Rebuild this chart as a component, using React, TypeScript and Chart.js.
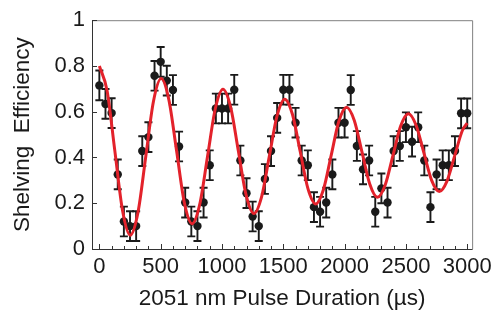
import { useEffect, useRef } from "react";
import { Chart, registerables } from "chart.js";

Chart.register(...registerables);

// Measured data: pulse duration (µs) and shelving efficiency
const durations = [
  0, 50, 100, 150, 200, 250, 300, 350, 400, 450, 500, 550, 600, 650, 700, 750,
  800, 850, 900, 950, 1000, 1050, 1100, 1150, 1200, 1250, 1300, 1350, 1400,
  1450, 1500, 1550, 1600, 1650, 1700, 1750, 1800, 1850, 1900, 1950, 2000, 2050,
  2100, 2150, 2200, 2250, 2300, 2350, 2400, 2450, 2500, 2550, 2600, 2650, 2700,
  2750, 2800, 2850, 2900, 2950, 3000,
];
const efficiency = [
  0.715, 0.634, 0.594, 0.326, 0.12, 0.1, 0.1, 0.428, 0.489, 0.757, 0.818, 0.736,
  0.695, 0.448, 0.203, 0.12, 0.1, 0.203, 0.366, 0.614, 0.614, 0.614, 0.696,
  0.387, 0.244, 0.142, 0.1, 0.306, 0.428, 0.573, 0.696, 0.696, 0.552, 0.387,
  0.366, 0.183, 0.163, 0.203, 0.326, 0.552, 0.552, 0.695, 0.45, 0.348, 0.387,
  0.163, 0.265, 0.203, 0.428, 0.45, 0.532, 0.469, 0.532, 0.387, 0.183, 0.326,
  0.366, 0.366, 0.428, 0.593, 0.593,
];
const errorHalfWidth = 0.065;

// Fit curve
const fitDurations = [
  0, 63, 126, 189, 252, 315, 378, 441, 504, 567, 630, 693, 756, 819, 882, 945,
  1008, 1071, 1134, 1197, 1260, 1323, 1386, 1449, 1512, 1575, 1638, 1701, 1764,
  1827, 1890, 1953, 2016, 2079, 2142, 2205, 2268, 2331, 2394, 2457, 2520, 2583,
  2646, 2709, 2772, 2835, 2898, 2961, 3000,
];
const fitEfficiency = [
  0.8, 0.692, 0.43, 0.168, 0.06, 0.16, 0.402, 0.645, 0.745, 0.652, 0.428, 0.203,
  0.11, 0.196, 0.404, 0.612, 0.698, 0.619, 0.427, 0.235, 0.155, 0.228, 0.405,
  0.582, 0.655, 0.588, 0.426, 0.264, 0.197, 0.259, 0.408, 0.558, 0.62, 0.562,
  0.423, 0.284, 0.226, 0.28, 0.408, 0.537, 0.591, 0.541, 0.421, 0.301, 0.251,
  0.297, 0.408, 0.519, 0.55,
];

const xTickLabels = [0, 500, 1000, 1500, 2000, 2500, 3000];
const yTickLabels = [0, 0.2, 0.4, 0.6, 0.8, 1];

const FONT = "'Liberation Sans', Arial, Helvetica, sans-serif";
const INK = "#1a1a1a";

export default function App() {
  const ref = useRef<HTMLCanvasElement>(null);

  useEffect(() => {
    document.body.style.margin = "0";
    const canvas = ref.current;
    if (!canvas) return;

    const errorBars = {
      id: "errorBars",
      beforeDatasetsDraw(chart: any) {
        const { ctx, scales } = chart;
        const xs = scales.x;
        const ys = scales.y;
        ctx.save();
        ctx.strokeStyle = INK;
        ctx.lineWidth = 1.9;
        durations.forEach((d, i) => {
          const v = efficiency[i];
          const px = xs.getPixelForValue(d);
          const pTop = ys.getPixelForValue(v + errorHalfWidth);
          const pBot = ys.getPixelForValue(v - errorHalfWidth);
          ctx.beginPath();
          ctx.moveTo(px, pTop);
          ctx.lineTo(px, pBot);
          ctx.moveTo(px - 4, pTop);
          ctx.lineTo(px + 4, pTop);
          ctx.moveTo(px - 4, pBot);
          ctx.lineTo(px + 4, pBot);
          ctx.stroke();
        });
        ctx.restore();
      },
    };

    const frame = {
      id: "frame",
      afterDraw(chart: any) {
        const { ctx, chartArea, scales } = chart;
        const { left, right, top, bottom } = chartArea;
        ctx.save();
        ctx.lineWidth = 1;
        // top & right borders (grey)
        ctx.strokeStyle = "#808080";
        ctx.beginPath();
        ctx.moveTo(left, top + 0.5);
        ctx.lineTo(right + 0.5, top + 0.5);
        ctx.lineTo(right + 0.5, bottom);
        ctx.stroke();
        // left & bottom axes
        ctx.strokeStyle = "#333";
        ctx.beginPath();
        ctx.moveTo(left + 0.5, top);
        ctx.lineTo(left + 0.5, bottom + 0.5);
        ctx.lineTo(right + 0.5, bottom + 0.5);
        ctx.stroke();
        // inward ticks
        ctx.beginPath();
        for (let v = 0; v <= 3000; v += 100) {
          const px = Math.round(scales.x.getPixelForValue(v)) + 0.5;
          const len = v % 500 === 0 ? 5 : 3;
          ctx.moveTo(px, bottom);
          ctx.lineTo(px, bottom - len);
        }
        yTickLabels.forEach((v) => {
          const py = Math.round(scales.y.getPixelForValue(v)) + 0.5;
          ctx.moveTo(left, py);
          ctx.lineTo(left + 5, py);
        });
        ctx.stroke();
        ctx.restore();
      },
    };

    const chart = new Chart(canvas, {
      type: "scatter",
      data: {
        datasets: [
          {
            type: "line",
            data: fitDurations.map((x, i) => ({ x, y: fitEfficiency[i] })),
            borderColor: "#e3222b",
            borderWidth: 3,
            pointRadius: 0,
            cubicInterpolationMode: "monotone",
            fill: false,
            order: 0,
          } as any,
          {
            type: "scatter",
            data: durations.map((x, i) => ({ x, y: efficiency[i] })),
            pointRadius: 4.2,
            backgroundColor: INK,
            borderWidth: 0,
            order: 1,
          },
        ],
      },
      options: {
        animation: false,
        responsive: false,
        events: [],
        layout: { padding: { top: 14, right: 23, left: 0, bottom: 0 } },
        plugins: { legend: { display: false }, tooltip: { enabled: false } },
        scales: {
          x: {
            type: "linear",
            min: -60,
            max: 3040,
            afterBuildTicks: (s: any) => {
              s.ticks = xTickLabels.map((v) => ({ value: v }));
            },
            ticks: {
              font: { family: FONT, size: 22 },
              color: INK,
              padding: 5,
              maxRotation: 0,
              autoSkip: false,
              callback: (v: any) => String(v),
            },
            grid: { display: false, drawTicks: false },
            border: { display: false },
            title: {
              display: true,
              text: "2051 nm Pulse Duration (µs)",
              font: { family: FONT, size: 22.5 },
              color: INK,
              padding: { top: 0, bottom: 8 },
            },
            afterFit: (s: any) => {
              s.height = 71;
            },
          },
          y: {
            type: "linear",
            min: 0,
            max: 1,
            afterBuildTicks: (s: any) => {
              s.ticks = yTickLabels.map((v) => ({ value: v }));
            },
            ticks: {
              font: { family: FONT, size: 22 },
              color: INK,
              padding: 7,
              autoSkip: false,
              callback: (v: any) => String(v),
            },
            grid: { display: false, drawTicks: false },
            border: { display: false },
            title: {
              display: true,
              text: "Shelving  Efficiency",
              font: { family: FONT, size: 22.5 },
              color: INK,
              padding: { top: 9, bottom: 0 },
            },
            afterFit: (s: any) => {
              s.width = 92;
            },
          },
        },
      },
      plugins: [errorBars, frame],
    });

    return () => chart.destroy();
  }, []);

  return (
    <div style={{ width: 497, height: 320 }}>
      <canvas ref={ref} width={497} height={320} />
    </div>
  );
}
